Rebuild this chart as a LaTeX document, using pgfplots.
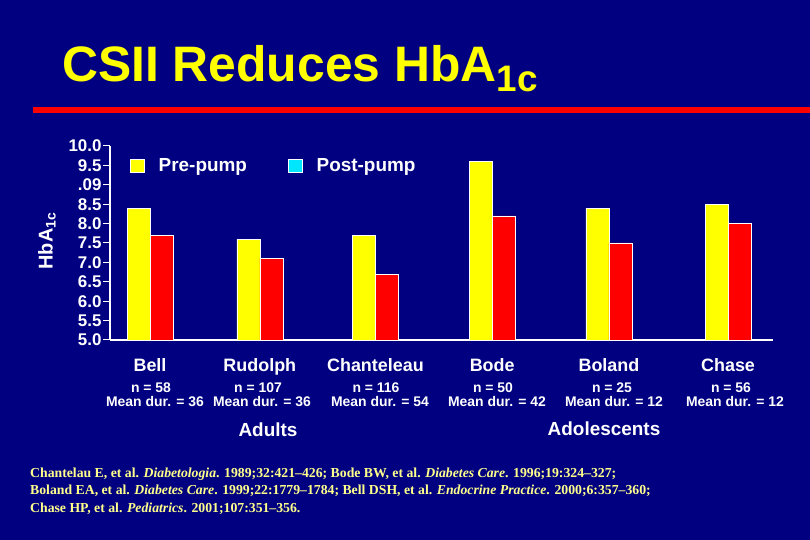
\documentclass[border=0pt]{standalone}
\usepackage{pgfplots}
\pgfplotsset{compat=1.18}
\usepackage{fontspec}
\setmainfont{Liberation Sans}
\newfontfamily\seriffont[Ligatures=TeX]{Liberation Serif}
\definecolor{bgnavy}{RGB}{0,0,128}
\definecolor{baryellow}{RGB}{255,255,0}
\definecolor{barred}{RGB}{255,0,0}
\definecolor{legcyan}{RGB}{0,230,255}
\definecolor{footyellow}{RGB}{255,255,140}
\begin{document}
\begin{tikzpicture}
\path[use as bounding box, fill=bgnavy] (0,0) rectangle (810bp,540bp);
% title
\node[anchor=base west, inner sep=0pt, text=baryellow, font=\fontsize{50}{60}\selectfont\bfseries] at (62bp,458bp) {CSII Reduces HbA\raisebox{-10bp}{\fontsize{37}{40}\selectfont 1c}};
\fill[barred] (33bp,427bp) rectangle (810bp,433bp);
% y label
\node[rotate=90, text=white, font=\fontsize{20}{20}\selectfont\bfseries] at (47bp,299bp) {HbA\textsubscript{1c}};
\begin{axis}[
  at={(110bp,200bp)}, anchor=south west,
  scale only axis, width=663bp, height=194bp,
  xmin=-0.346, xmax=5.389, ymin=5, ymax=10,
  axis x line=bottom, axis y line=left,
  axis line style={white, line width=1.2bp, -},
  xtick={0,0.95,1.95,2.96,3.97,5},
  xticklabels={Bell,Rudolph,Chanteleau,Bode,Boland,Chase},
  x tick style={draw=none},
  ytick={5,5.5,6,6.5,7,7.5,8,8.5,9,9.5,10},
  yticklabels={5.0,5.5,6.0,6.5,7.0,7.5,8.0,8.5,.09,9.5,10.0},
  y tick style={white, line width=1bp},
  tick align=outside, major tick length=7bp,
  ticklabel style={text=white},
  yticklabel style={font=\fontsize{17}{17}\selectfont\bfseries, xshift=2bp},
  xticklabel style={font=\fontsize{18}{18}\selectfont\bfseries, anchor=base, yshift=-25bp},
  ybar, bar width=23bp,
  legend columns=2,
  legend style={draw=none, fill=none, at={(0.03,0.897)}, anchor=west, inner sep=0pt,
    font=\fontsize{19}{19}\selectfont\bfseries, text=white, nodes={inner sep=0pt},
    /tikz/every even column/.append style={column sep=41bp}},
]
\addlegendimage{legend image code/.code={\draw[fill=baryellow,draw=white,line width=0.8bp] (0bp,-6.5bp) rectangle (14bp,6.5bp); \path (28bp,0bp);}}
\addlegendentry{Pre-pump}
\addlegendimage{legend image code/.code={\draw[fill=legcyan,draw=white,line width=0.8bp] (0bp,-6.5bp) rectangle (14bp,6.5bp); \path (28bp,0bp);}}
\addlegendentry{Post-pump}
\addplot[fill=baryellow, draw=white, line width=0.6bp, bar shift=-11.5bp, forget plot]
  coordinates {(0,8.4) (0.95,7.6) (1.95,7.7) (2.96,9.6) (3.97,8.4) (5,8.5)};
\addplot[fill=barred, draw=white, line width=0.6bp, bar shift=11.5bp, forget plot]
  coordinates {(0,7.7) (0.95,7.1) (1.95,6.7) (2.96,8.2) (3.97,7.5) (5,8.0)};
\end{axis}
% study details
\begin{scope}[every node/.style={text=white, font=\fontsize{14}{14}\selectfont\bfseries, inner sep=0pt}]
\node at (151bp,152bp) {n = 58};
\node at (258bp,152bp) {n = 107};
\node at (376bp,152bp) {n = 116};
\node at (493bp,152bp) {n = 50};
\node at (612bp,152bp) {n = 25};
\node at (731bp,152bp) {n = 56};
\node at (155bp,138bp) {Mean dur. = 36};
\node at (262bp,138bp) {Mean dur. = 36};
\node at (380bp,138bp) {Mean dur. = 54};
\node at (497bp,138bp) {Mean dur. = 42};
\node at (614bp,138bp) {Mean dur. = 12};
\node at (735bp,138bp) {Mean dur. = 12};
\end{scope}
\node[text=white, font=\fontsize{19}{19}\selectfont\bfseries, inner sep=0pt] at (268bp,110bp) {Adults};
\node[text=white, font=\fontsize{19}{19}\selectfont\bfseries, inner sep=0pt] at (604bp,111bp) {Adolescents};
% references
\begin{scope}[every node/.style={anchor=base west, inner sep=0pt, text=footyellow, font=\seriffont\bfseries\fontsize{13.8}{17}\selectfont}]
\node at (30bp,62bp) {Chantelau E, et al. \textit{Diabetologia}. 1989;32:421--426; Bode BW, et al. \textit{Diabetes Care}. 1996;19:324--327;};
\node at (30bp,45bp) {Boland EA, et al. \textit{Diabetes Care}. 1999;22:1779--1784; Bell DSH, et al. \textit{Endocrine Practice}. 2000;6:357--360;};
\node at (30bp,28bp) {Chase HP, et al. \textit{Pediatrics}. 2001;107:351--356.};
\end{scope}
\end{tikzpicture}
\end{document}
